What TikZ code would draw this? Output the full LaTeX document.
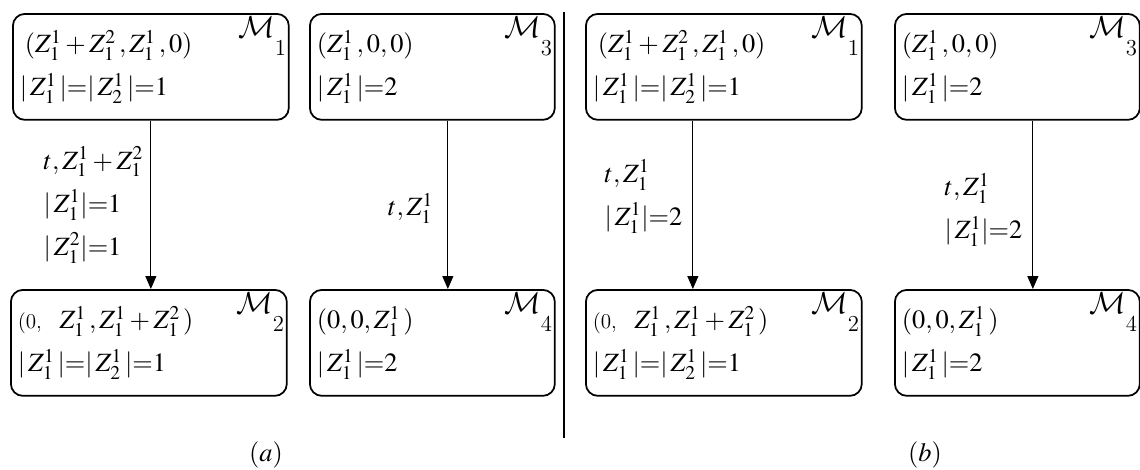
\documentclass[tikz,border=0pt]{standalone}
\usepackage{mathptmx}
\DeclareMathAlphabet{\mathcal}{OMS}{cmsy}{m}{n}
\usetikzlibrary{arrows.meta, positioning, calc}
\newcommand{\mname}[1]{$\mathcal{M}$\raisebox{-0.36cm}{\fontsize{13}{13}\selectfont\itshape #1}}
\tikzset{
  every picture/.style={line width=0.6pt},
  mstate/.style={draw, line width=1pt, rounded corners=0.24cm, minimum height=2.12cm, align=left, inner xsep=0.14cm, text width=#1, anchor=north west},
  mstate/.default=4.62cm,
  mlab/.style={anchor=north east, inner sep=0pt, font=\fontsize{18}{18}\selectfont},
  arrow/.style={-{Triangle[length=0.26cm, width=0.22cm]}, line width=0.6pt},
  elab/.style={anchor=east, align=left, inner sep=0pt},
  caption/.style={font=\fontsize{15}{15}\selectfont},
}
\begin{document}
\begin{tikzpicture}[x=0.02cm, y=-0.02cm, font=\fontsize{15}{24.5}\selectfont]
  \useasboundingbox (0,0) rectangle (1140,470);
  % panel (a)
  \node[mstate=5.24cm] (a1) at (12,13) {\hspace*{0.1cm}$(Z_1^1+Z_1^2\,,Z_1^1\,,0)$\\$|\,Z_1^1\,|{=}|\,Z_2^1\,|{=}1$};
  \node[mstate] (a3) at (309,13) {$(Z_1^1\,,0,0)$\\$|\,Z_1^1\,|{=}2$};
  \node[mstate=5.24cm] (a2) at (10,289) {{\fontsize{12}{12}\selectfont(0,}\ \ $Z_1^1\,,Z_1^1+Z_1^2\,)$\\$|\,Z_1^1\,|{=}|\,Z_2^1\,|{=}1$};
  \node[mstate] (a4) at (309,289) {$(0,0,Z_1^1\,)$\\$|\,Z_1^1\,|{=}2$};
  % panel (b)
  \node[mstate=5.24cm] (b1) at (585,13) {\hspace*{0.1cm}$(Z_1^1+Z_1^2\,,Z_1^1\,,0)$\\$|\,Z_1^1\,|{=}|\,Z_2^1\,|{=}1$};
  \node[mstate] (b3) at (894,13) {$(Z_1^1\,,0,0)$\\$|\,Z_1^1\,|{=}2$};
  \node[mstate=5.24cm] (b2) at (585,289) {{\fontsize{12}{12}\selectfont(0,}\ \ $Z_1^1\,,Z_1^1+Z_1^2\,)$\\$|\,Z_1^1\,|{=}|\,Z_2^1\,|{=}1$};
  \node[mstate] (b4) at (894,289) {$(0,0,Z_1^1\,)$\\$|\,Z_1^1\,|{=}2$};
  \foreach \b/\n in {a1/1,a2/2,a3/3,a4/4,b1/1,b2/2,b3/3,b4/4}
    \node[mlab] (l\b) at ([shift={(-3,3)}]\b.north east) {\mname{\n}};
  % transitions
  \coordinate (sa1) at (a1.south);
  \coordinate (sa3) at ([xshift=0.31cm]a3.south);
  \coordinate (sb1) at ([xshift=-0.62cm]b1.south);
  \coordinate (sb3) at ([xshift=0.31cm]b3.south);
  \draw[arrow] (sa1) -- (sa1 |- a2.north)
    node[elab, pos=0.5, xshift=-0.14cm] (ea1) {$t,Z_1^1+Z_1^2$\\$|\,Z_1^1|{=}1$\\$|\,Z_1^2|{=}1$};
  \draw[arrow] (sa3) -- (sa3 |- a4.north)
    node[elab, pos=0.52, xshift=-0.28cm] (ea3) {$t,Z_1^1$};
  \draw[arrow] (sb1) -- (sb1 |- b2.north)
    node[elab, pos=0.45, xshift=-0.2cm] (eb1) {$t,Z_1^1$\\$|\,Z_1^1|{=}2$};
  \draw[arrow] (sb3) -- (sb3 |- b4.north)
    node[elab, pos=0.53, xshift=-0.2cm] (eb3) {$t,Z_1^1$\\$|\,Z_1^1|{=}2$};
  % separator and captions
  \coordinate (d1) at (564,12);
  \coordinate (d2) at (564,438);
  \draw[line width=0.8pt] (d1) -- (d2);
  \node[caption] (capa) at (266,455) {$(a)$};
  \node[caption] (capb) at (925,455) {$(b)$};
\end{tikzpicture}
\end{document}
